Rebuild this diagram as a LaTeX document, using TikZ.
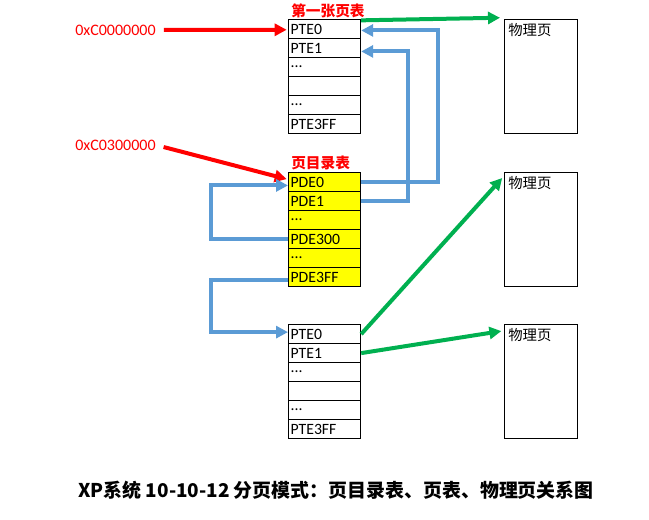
\documentclass[tikz,border=0pt]{standalone}
\usepackage{fontspec}
\setmainfont{Carlito}
\newfontfamily\cjk{Noto Sans CJK SC}
\usetikzlibrary{arrows.meta}
\definecolor{linkblue}{HTML}{5B9BD5}
\definecolor{mapgreen}{HTML}{00B050}
\definecolor{addrred}{HTML}{FF0000}
\definecolor{dirfill}{HTML}{FFFF00}
\begin{document}
\begin{tikzpicture}[x=0.75pt,y=-0.75pt,
  cell/.style={draw=black, line width=0.9pt, minimum width=54pt, minimum height=14.25pt,
    inner xsep=1.5pt, inner ysep=0pt, text width=51pt, align=left, anchor=north west,
    font=\fontsize{11.8}{12}\selectfont},
  dircell/.style={cell, fill=dirfill},
  page/.style={draw=black, line width=0.9pt, minimum width=54.75pt, minimum height=85.5pt,
    inner sep=0pt, anchor=north west},
  pagelabel/.style={anchor=north west, inner sep=0pt, font=\cjk\fontsize{10.8}{11}\selectfont},
  title/.style={anchor=west, inner sep=0pt, text=addrred, font=\cjk\bfseries\fontsize{11}{12}\selectfont},
  addr/.style={anchor=west, inner sep=0pt, text=addrred, font=\fontsize{12}{13}\selectfont},
  bluelink/.style={draw=linkblue, line width=3pt,
    -{Triangle[length=9pt,width=9pt]}},
  greenlink/.style={draw=mapgreen, line width=3pt,
    -{Triangle[length=9pt,width=9pt]}},
  redlink/.style={draw=addrred, line width=3pt,
    -{Triangle[length=9pt,width=9pt]}}]
\useasboundingbox (0,0) rectangle (649,519);

% first page table
\node[title] (ttitle) at (291,11) {第一张页表};
\node[cell] (t0) at (288,19) {PTE0};
\node[cell] (t1) at (288,38) {PTE1};
\node[cell] (t2) at (288,57) {...};
\node[cell] (t3) at (288,76) {};
\node[cell] (t4) at (288,95) {...};
\node[cell] (t5) at (288,114) {PTE3FF};

% page directory
\node[title] (dtitle) at (291,163) {页目录表};
\node[dircell] (d0) at (288,172) {PDE0};
\node[dircell] (d1) at (288,191) {PDE1};
\node[dircell] (d2) at (288,210) {...};
\node[dircell] (d3) at (288,229) {PDE300};
\node[dircell] (d4) at (288,248) {...};
\node[dircell] (d5) at (288,267) {PDE3FF};

% last page table
\node[cell] (b0) at (288,324) {PTE0};
\node[cell] (b1) at (288,343) {PTE1};
\node[cell] (b2) at (288,362) {...};
\node[cell] (b3) at (288,381) {};
\node[cell] (b4) at (288,400) {...};
\node[cell] (b5) at (288,419) {PTE3FF};

% physical pages
\node[page] (p1) at (504,19) {};
\node[page] (p2) at (504,172) {};
\node[page] (p3) at (504,324) {};
\node[pagelabel] (p1l) at ([xshift=3pt,yshift=-3pt]p1.north west) {物理页};
\node[pagelabel] (p2l) at ([xshift=3pt,yshift=-3pt]p2.north west) {物理页};
\node[pagelabel] (p3l) at ([xshift=3pt,yshift=-3pt]p3.north west) {物理页};

% linear addresses
\node[addr] (a1) at (75,30) {0xC0000000};
\node[addr] (a2) at (75,145) {0xC0300000};
\draw[redlink, shorten <=6pt, shorten >=1pt] (a1.east) -- ([yshift=-0.5pt]t0.west);
\draw[redlink, shorten <=6pt, shorten >=1pt] (a2.east) -- ([yshift=2pt]d0.west);

% directory entries pointing at page tables
\draw[bluelink] (d0.east) -- ++(77,0) |- ([yshift=-1pt]t0.east);
\draw[bluelink] (d1.east) -- ++(47,0) |- ([yshift=-2.5pt]t1.east);
\draw[bluelink] (d3.west) -- ++(-77,0) |- ([yshift=-2.5pt]d0.west);
\draw[bluelink] ([yshift=-2pt]d5.west) -- ++(-77,0) |- ([yshift=1.5pt]b0.west);

% page table entries pointing at physical pages
\draw[greenlink, shorten >=3pt] ([yshift=-1pt]t0.north east) -- ([yshift=1pt]p1.north west);
\draw[greenlink, shorten >=2pt] (b0.east) -- ([yshift=-3pt]p2.north west);
\draw[greenlink, shorten >=2pt] (b1.east) -- ([yshift=-5pt]p3.north west);

% caption
\node[inner sep=0pt, font=\cjk\bfseries\fontsize{14.2}{15}\selectfont] (cap) at (336,490)
  {XP系统 10-10-12 分页模式：页目录表、页表、物理页关系图};
\end{tikzpicture}
\end{document}
